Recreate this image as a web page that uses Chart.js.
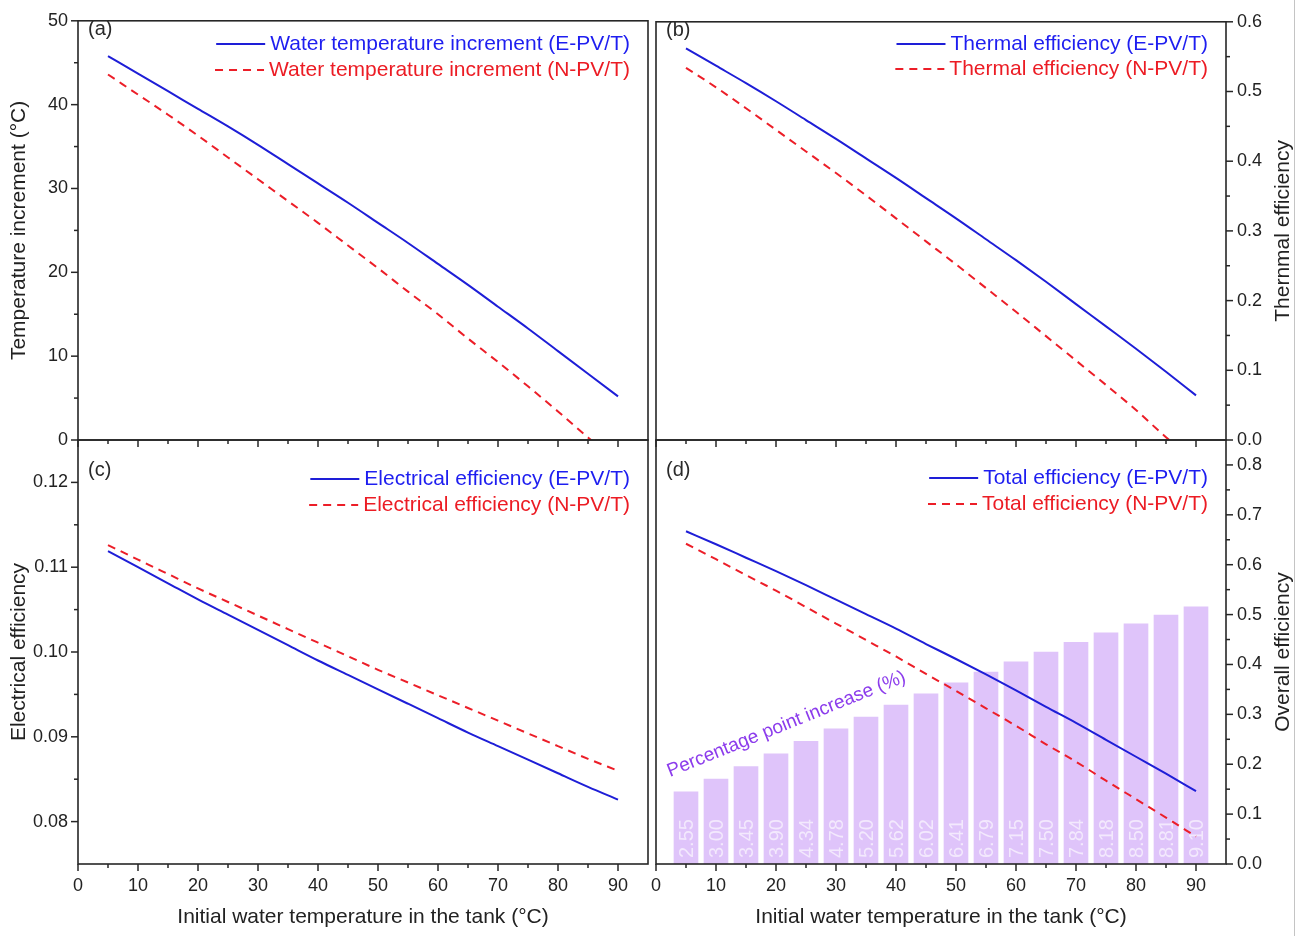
<!DOCTYPE html>
<html>
<head>
<meta charset="utf-8">
<script src="https://cdn.jsdelivr.net/npm/chart.js@4.4.1/dist/chart.umd.min.js"></script>
<style>
html, body { margin: 0; padding: 0; background: #fff; }
#wrap { position: relative; width: 1303px; height: 936px; overflow: hidden; }
#wrap canvas { position: absolute; left: 0; top: 0; }
#edge { position: absolute; left: 1294px; top: 0; width: 1px; height: 936px; background: #c4c4c4; }
</style>
</head>
<body>
<div id="wrap">
  <canvas id="pa" width="1303" height="936"></canvas>
  <canvas id="pb" width="1303" height="936"></canvas>
  <canvas id="pc" width="1303" height="936"></canvas>
  <canvas id="pd" width="1303" height="936"></canvas>
  <div id="edge"></div>
</div>
<script>
// values
const temps = [5, 10, 15, 20, 25, 30, 35, 40, 45, 50, 55, 60, 65, 70, 75, 80, 85, 90];

const riseE = [45.8, 43.7, 41.6, 39.5, 37.4, 35.2, 32.9, 30.6, 28.3, 25.9, 23.5, 21.0, 18.5, 15.9, 13.3, 10.6, 7.9, 5.2];
const riseN = [43.6, 41.2, 38.8, 36.3, 33.7, 31.1, 28.5, 25.9, 23.2, 20.5, 17.7, 15.0, 12.1, 9.3, 6.4, 3.4, 0.3, -2.7];

const thermE = [0.562, 0.537, 0.512, 0.486, 0.459, 0.432, 0.404, 0.376, 0.347, 0.318, 0.288, 0.258, 0.227, 0.195, 0.163, 0.131, 0.098, 0.064];
const thermN = [0.534, 0.506, 0.476, 0.445, 0.414, 0.383, 0.351, 0.318, 0.285, 0.252, 0.218, 0.184, 0.149, 0.114, 0.079, 0.043, 0.004, -0.031];

const elecE = [0.1119, 0.1100, 0.1081, 0.1062, 0.1044, 0.1026, 0.1008, 0.0990, 0.0973, 0.0956, 0.0939, 0.0922, 0.0905, 0.0889, 0.0873, 0.0857, 0.0841, 0.0826];
const elecN = [0.1126, 0.1109, 0.1092, 0.1075, 0.1059, 0.1043, 0.1027, 0.1011, 0.0995, 0.0979, 0.0964, 0.0949, 0.0934, 0.0919, 0.0904, 0.0889, 0.0874, 0.0860];

const totalE = [0.667, 0.641, 0.614, 0.587, 0.559, 0.530, 0.501, 0.472, 0.441, 0.411, 0.380, 0.348, 0.315, 0.283, 0.249, 0.215, 0.181, 0.146];
const totalN = [0.642, 0.611, 0.579, 0.548, 0.515, 0.482, 0.449, 0.416, 0.381, 0.347, 0.312, 0.277, 0.240, 0.205, 0.167, 0.130, 0.093, 0.055];

const ppIncrease = [2.55, 3.00, 3.45, 3.90, 4.34, 4.78, 5.20, 5.62, 6.02, 6.41, 6.79, 7.15, 7.50, 7.84, 8.18, 8.50, 8.81, 9.10];

// tick labels
const xTicks = [0, 10, 20, 30, 40, 50, 60, 70, 80, 90];
const riseTicks = [0, 10, 20, 30, 40, 50];
const thermTicks = [0.0, 0.1, 0.2, 0.3, 0.4, 0.5, 0.6];
const elecTicks = [0.08, 0.09, 0.10, 0.11, 0.12];
const totalTicks = [0.0, 0.1, 0.2, 0.3, 0.4, 0.5, 0.6, 0.7, 0.8];

const xTitle = 'Initial water temperature in the tank (\u00B0C)';

const W = 1303, H = 936;
const FONT = "'Liberation Sans', Arial, sans-serif";
const INK = '#222';
const BLUE = 'rgb(30,30,215)', RED = 'rgb(236,30,40)';
const BLUE_TXT = 'rgb(30,30,240)', RED_TXT = 'rgb(236,28,36)';
const BAR = 'rgb(223,196,250)';

function pts(ys) {
    return temps.map((x, i) => ({x: x, y: ys[i]}));
}

function lineSet(label, ys, dashed) {
    return {
        type: 'line', label: label, data: pts(ys),
        borderColor: dashed ? RED : BLUE, borderWidth: 2,
        borderDash: dashed ? [8, 6] : [],
        pointRadius: 0, cubicInterpolationMode: 'monotone', fill: false, order: 0
    };
}

function xAxis(withLabels) {
    return {
        type: 'linear', position: 'bottom', min: 0, max: 95, offset: false,
        grid: {display: false, drawTicks: false}, border: {display: false},
        afterBuildTicks: s => { s.ticks = xTicks.map(v => ({value: v})); },
        ticks: {display: withLabels, padding: 11, color: INK, font: {family: FONT, size: 18}},
        title: {display: withLabels, text: xTitle, color: INK, font: {family: FONT, size: 21}, padding: {top: 0, bottom: 6}},
        afterFit: s => { s.height = withLabels ? 72 : 0; }
    };
}

function yAxis(pos, min, max, tickVals, digits, title) {
    return {
        type: 'linear', position: pos, min: min, max: max,
        grid: {display: false, drawTicks: false}, border: {display: false},
        afterBuildTicks: s => { s.ticks = tickVals.map(v => ({value: v})); },
        ticks: {padding: pos === 'left' ? 10 : 11, color: INK, font: {family: FONT, size: 18},
                callback: v => Number(v).toFixed(digits)},
        title: {display: !!title, text: title || '', color: INK, font: {family: FONT, size: 21}, padding: {top: 7, bottom: 0}},
        afterFit: s => { s.width = pos === 'left' ? 78 : 77; }
    };
}

function minorVals(scale) {
    const major = scale.ticks.map(t => t.value);
    const out = [];
    const step = major[1] - major[0];
    const eps = step * 1e-6;
    let v = major[0] - step / 2;
    while (v < scale.max - eps) {
        if (v > scale.min + eps) out.push(v);
        v += step;
    }
    return out;
}

function drawTicks(ctx, chart, id, side) {
    const s = chart.scales[id];
    const a = chart.chartArea;
    const draw = (v, len) => {
        const p = s.getPixelForValue(v);
        ctx.beginPath();
        if (side === 'bottom') { ctx.moveTo(p, a.bottom); ctx.lineTo(p, a.bottom + len); }
        else if (side === 'left') { ctx.moveTo(a.left, p); ctx.lineTo(a.left - len, p); }
        else { ctx.moveTo(a.right, p); ctx.lineTo(a.right + len, p); }
        ctx.stroke();
    };
    s.ticks.forEach(t => draw(t.value, 7));
    minorVals(s).forEach(v => draw(v, 4));
}

const decor = {
    id: 'decor',
    afterDatasetDraw(chart, args, o) {
        if (args.meta.type !== 'bar') return;
        const ctx = chart.ctx;
        const ds = chart.data.datasets[args.index];
        ctx.save();
        ctx.font = '20px ' + FONT;
        ctx.fillStyle = 'rgba(255,255,255,0.62)';
        ctx.textAlign = 'left';
        ctx.textBaseline = 'middle';
        args.meta.data.forEach((el, i) => {
            ctx.save();
            ctx.translate(el.x, el.base - 6);
            ctx.rotate(-Math.PI / 2);
            ctx.fillText(ds.data[i].y.toFixed(2), 0, 1);
            ctx.restore();
        });
        ctx.restore();
    },
    afterDraw(chart, args, o) {
        const ctx = chart.ctx;
        const a = chart.chartArea;
        ctx.save();
        // box round the plot
        ctx.strokeStyle = '#262626';
        ctx.lineWidth = 1.6;
        ctx.strokeRect(a.left, a.top, a.right - a.left, a.bottom - a.top);
        ctx.lineWidth = 1.5;
        drawTicks(ctx, chart, 'x', 'bottom');
        drawTicks(ctx, chart, 'y', o.ySide);

        // panel letter
        ctx.fillStyle = '#2a2a2a';
        ctx.font = '20px ' + FONT;
        ctx.textAlign = 'left';
        ctx.textBaseline = 'middle';
        ctx.fillText(o.letter, a.left + 10, o.letterY);

        // legend, top right inside the plot
        const lines = chart.data.datasets.filter(d => d.type === 'line');
        ctx.font = '21px ' + FONT;
        lines.forEach((d, i) => {
            const y = o.legendY[i];
            const tw = ctx.measureText(d.label).width;
            const tx = a.right - 18 - tw;
            ctx.fillStyle = d.borderDash.length ? RED_TXT : BLUE_TXT;
            ctx.fillText(d.label, tx, y);
            ctx.strokeStyle = d.borderColor;
            ctx.lineWidth = 2;
            ctx.setLineDash(d.borderDash);
            ctx.beginPath();
            ctx.moveTo(tx - 54, y);
            ctx.lineTo(tx - 5, y);
            ctx.stroke();
            ctx.setLineDash([]);
        });

        // right-hand axis title, reading upward
        if (o.rightTitle) {
            ctx.save();
            ctx.fillStyle = INK;
            ctx.font = '21px ' + FONT;
            ctx.textAlign = 'center';
            ctx.translate(1283, (a.top + a.bottom) / 2);
            ctx.rotate(-Math.PI / 2);
            ctx.fillText(o.rightTitle, 0, 0);
            ctx.restore();
        }

        if (o.note) {
            ctx.save();
            ctx.fillStyle = 'rgb(140,60,236)';
            ctx.font = '19px ' + FONT;
            ctx.textAlign = 'left';
            ctx.textBaseline = 'alphabetic';
            ctx.translate(a.left + 14, a.bottom - 87);
            ctx.rotate(-22 * Math.PI / 180);
            ctx.fillText(o.note, 0, 0);
            ctx.restore();
        }
        ctx.restore();
    }
};

function panel(id, area, xLabels, yAx, datasets, opts, extraScales) {
    const leftW = yAx.position === 'left' ? 78 : 0;
    const rightW = yAx.position === 'right' ? 77 : 0;
    const xH = xLabels ? 72 : 0;
    const scales = Object.assign({x: xAxis(xLabels), y: yAx}, extraScales || {});
    return new Chart(document.getElementById(id), {
        type: 'line',
        data: {datasets: datasets},
        options: {
            responsive: false, animation: false, events: [],
            layout: {padding: {
                left: area.l - leftW, top: area.t,
                right: W - area.r - rightW, bottom: H - area.b - xH
            }},
            scales: scales,
            plugins: {legend: {display: false}, tooltip: {enabled: false}, decor: opts}
        },
        plugins: [decor]
    });
}

panel('pa', {l: 78, t: 15, r: 648, b: 440}, false,
    yAxis('left', 0, 50, riseTicks, 0, 'Temperature increment (\u00B0C)'),
    [lineSet('Water temperature increment (E-PV/T)', riseE, false),
     lineSet('Water temperature increment (N-PV/T)', riseN, true)],
    {letter: '(a)', letterY: 29, legendY: [44, 70], ySide: 'left'});

panel('pb', {l: 656, t: 15, r: 1226, b: 440}, false,
    yAxis('right', 0, 0.6, thermTicks, 1, null),
    [lineSet('Thermal efficiency (E-PV/T)', thermE, false),
     lineSet('Thermal efficiency (N-PV/T)', thermN, true)],
    {letter: '(b)', letterY: 30, legendY: [44, 69], ySide: 'right', rightTitle: 'Thernmal efficiency'});

panel('pc', {l: 78, t: 440, r: 648, b: 864}, true,
    yAxis('left', 0.075, 0.125, elecTicks, 2, 'Electrical efficiency'),
    [lineSet('Electrical efficiency (E-PV/T)', elecE, false),
     lineSet('Electrical efficiency (N-PV/T)', elecN, true)],
    {letter: '(c)', letterY: 470, legendY: [479, 505], ySide: 'left'});

panel('pd', {l: 656, t: 440, r: 1226, b: 864}, true,
    yAxis('right', 0, 0.85, totalTicks, 1, null),
    [lineSet('Total efficiency (E-PV/T)', totalE, false),
     lineSet('Total efficiency (N-PV/T)', totalN, true),
     {type: 'bar', label: 'Percentage point increase (%)', data: pts(ppIncrease), yAxisID: 'yBar',
      backgroundColor: BAR, borderWidth: 0, barThickness: 24, order: 1}],
    {letter: '(d)', letterY: 470, legendY: [478, 504], ySide: 'right', rightTitle: 'Overall efficiency',
     note: 'Percentage point increase (%)'},
    {yBar: {type: 'linear', display: false, min: 0, max: 15}});
</script>
</body>
</html>
